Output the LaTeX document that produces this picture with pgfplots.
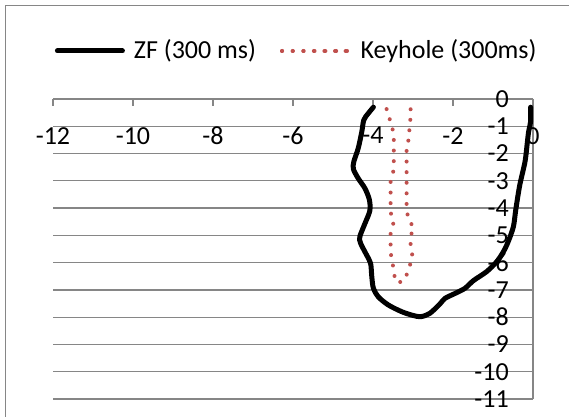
\documentclass[border=0pt]{standalone}
\usepackage{pgfplots}
\pgfplotsset{compat=1.18}
\usepackage{fontspec}
\setmainfont{Carlito}
\definecolor{keyred}{RGB}{192,80,77}
\definecolor{gridgray}{RGB}{134,134,134}

\begin{document}
\fontsize{26bp}{31bp}\selectfont
\begin{tikzpicture}
\useasboundingbox (0,0) rectangle (569bp,417bp);
\draw[gridgray, line width=1.5bp] (5.6bp,0) -- (5.6bp,411.6bp) -- (569bp,411.6bp);
\begin{axis}[
    at={(53bp,18bp)}, anchor=south west,
    scale only axis,
    width=480bp, height=300bp,
    xmin=-12, xmax=0,
    ymin=-11, ymax=0,
    xtick={-12,-10,-8,-6,-4,-2,0},
    ytick={0,-1,-2,-3,-4,-5,-6,-7,-8,-9,-10,-11},
    axis x line*=top,
    axis y line*=right,
    axis line style={gridgray, line width=1.3bp},
    xtick align=inside,
    major tick length=7bp,
    xtick style={gridgray, line width=1.3bp},
    ytick style={draw=none},
    ymajorgrids=true,
    grid style={gridgray, line width=1.3bp},
    /pgf/number format/assume math mode=true,
    ticklabel style={font=\fontsize{26bp}{31bp}\selectfont, inner sep=0pt},
    xticklabel style={anchor=north, yshift=-28bp},
    yticklabel style={anchor=east, xshift=-24bp},
    legend columns=2,
    legend style={at={(0.004,1.160)}, anchor=west, draw=none, fill=none,
        inner sep=0pt, outer sep=0pt,
        font=\fontsize{26bp}{31bp}\selectfont,
        nodes={inner sep=0pt},
        /tikz/every odd column/.style={column sep=9bp},
        /tikz/every even column/.style={column sep=24bp}},
]
\addplot[black, line width=5bp, line cap=round, line join=round, smooth, tension=0.5,
    legend image code/.code={\draw[black, line width=5bp, line cap=round] (0bp,0bp) -- (65bp,0bp);}]
    coordinates {
    (-3.99,-0.30)(-4.12,-0.53)(-4.23,-0.77)(-4.28,-1.20)(-4.37,-1.81)(-4.48,-2.30)
    (-4.49,-2.57)(-4.37,-2.91)(-4.20,-3.28)(-4.09,-3.70)(-4.08,-4.10)(-4.20,-4.56)
    (-4.33,-5.05)(-4.31,-5.29)(-4.16,-5.72)(-4.06,-6.03)(-4.03,-6.52)(-3.99,-6.94)
    (-3.87,-7.25)(-3.62,-7.55)(-3.28,-7.80)(-2.99,-7.94)(-2.80,-7.98)(-2.58,-7.86)
    (-2.33,-7.52)(-2.20,-7.31)(-1.95,-7.13)(-1.70,-6.94)(-1.49,-6.66)(-1.16,-6.33)
    (-0.91,-5.97)(-0.74,-5.60)(-0.62,-5.23)(-0.49,-4.68)(-0.43,-4.05)(-0.33,-3.15)
    (-0.20,-2.30)(-0.14,-1.57)(-0.11,-1.20)(-0.06,-0.83)(-0.06,-0.30)
    };
\addlegendentry{ZF (300 ms)}
\addplot[keyred, line width=4bp, line cap=round, dash pattern=on 0pt off 10.6bp,
    legend image code/.code={\draw[keyred, line width=4bp, line cap=round, dash pattern=on 0pt off 10.833bp] (0bp,0bp) -- (65bp,0bp);
        \path (0bp,0bp) -- (67.5bp,0bp);}]
    coordinates {
    (-3.66,-0.37)(-3.58,-0.75)(-3.51,-1.11)(-3.48,-1.48)(-3.48,-1.87)(-3.48,-2.26)
    (-3.49,-2.64)(-3.56,-3.00)(-3.56,-3.40)(-3.56,-3.77)(-3.56,-4.16)(-3.48,-4.51)
    (-3.56,-4.87)(-3.56,-5.26)(-3.56,-5.64)(-3.51,-6.00)(-3.48,-6.37)(-3.43,-6.71)
    (-3.27,-6.71)(-3.16,-6.45)(-3.08,-6.11)(-3.01,-5.78)(-3.06,-5.42)(-3.06,-5.02)
    (-2.98,-4.72)(-3.12,-4.40)(-3.16,-4.01)(-3.16,-3.64)(-3.16,-3.25)(-3.16,-2.85)
    (-3.16,-2.48)(-3.16,-2.12)(-3.16,-1.72)(-3.08,-1.36)(-3.10,-0.99)(-3.06,-0.71)
    (-3.06,-0.32)
    };
\addlegendentry{Keyhole (300ms)}
\end{axis}
\end{tikzpicture}
\end{document}
